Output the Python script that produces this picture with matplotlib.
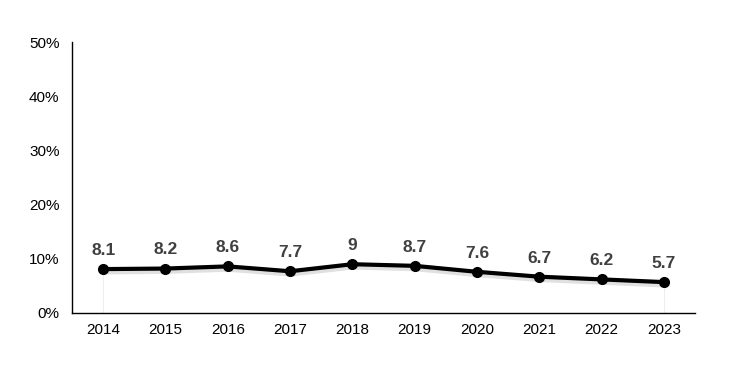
import matplotlib.pyplot as plt
import numpy as np

plt.rcParams['font.family'] = ['Liberation Sans', 'DejaVu Sans']

years = ['2014', '2015', '2016', '2017', '2018', '2019', '2020', '2021', '2022', '2023']
values = [8.1, 8.2, 8.6, 7.7, 9, 8.7, 7.6, 6.7, 6.2, 5.7]
yticks = [0, 10, 20, 30, 40, 50]

x = np.arange(len(years))

fig = plt.figure(figsize=(7.54, 3.8), dpi=100)
ax = fig.add_axes([72 / 754, 1 - 313 / 380, 623 / 754, 271 / 380])

# faint drop lines at the ends
for i in [0, len(x) - 1]:
    ax.plot([x[i], x[i]], [0, values[i]], color='#eeeeee', lw=0.8, zorder=1)

# soft shadow under the line
ax.plot(x, np.array(values) - 0.35, color='#cccccc', lw=5, alpha=0.6,
        solid_capstyle='round', zorder=2)
ax.plot(x, values, color='black', lw=3, marker='o', markersize=7,
        solid_joinstyle='round', zorder=3)

for xi, v in zip(x, values):
    ax.annotate(f'{v:g}', (xi, v), xytext=(0, 8), textcoords='offset points',
                ha='center', va='bottom', fontsize=12.5, fontweight='bold',
                color='#404040')

ax.set_xlim(-0.5, len(x) - 0.5)
ax.set_ylim(0, 50)
ax.set_xticks(x)
ax.set_xticklabels(years)
ax.set_yticks(yticks)
ax.set_yticklabels([f'{t}%' for t in yticks])
ax.tick_params(length=0, labelsize=11, colors='black', pad=7)
ax.tick_params(axis='y', pad=9)

for s in ['top', 'right']:
    ax.spines[s].set_visible(False)
for s in ['left', 'bottom']:
    ax.spines[s].set_linewidth(1)

plt.savefig('out.png', dpi=100)
